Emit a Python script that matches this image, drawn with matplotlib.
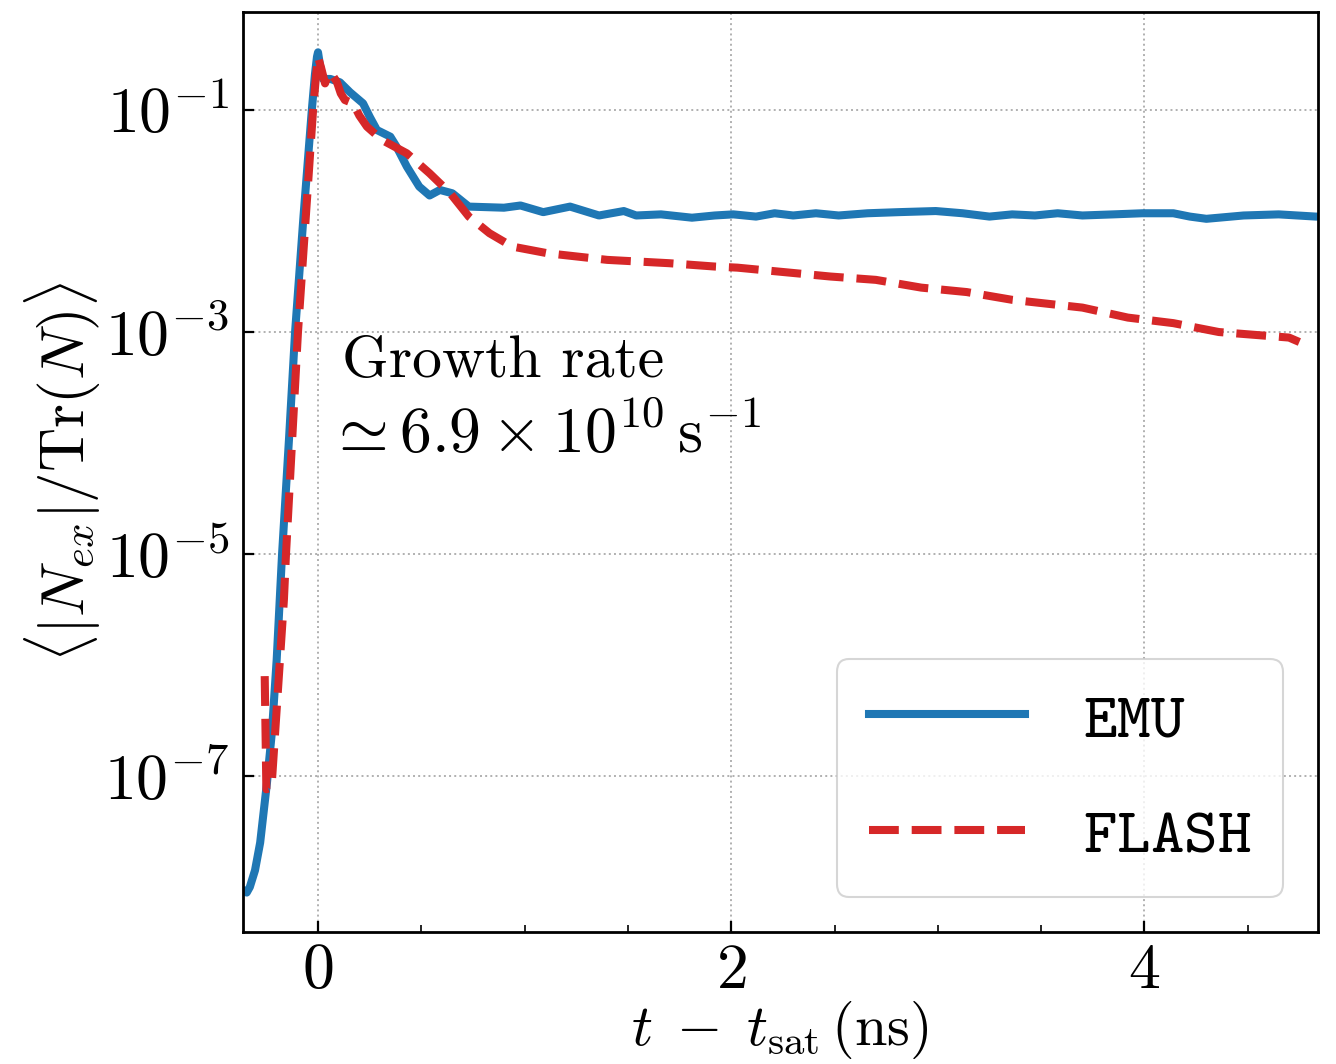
import numpy as np
import matplotlib
matplotlib.use("Agg")
import matplotlib.pyplot as plt
from matplotlib.ticker import FixedLocator, MultipleLocator, FuncFormatter, NullLocator

plt.rcParams['mathtext.fontset'] = 'cm'
plt.rcParams['font.family'] = 'cmr10'
plt.rcParams['axes.unicode_minus'] = False

# EMU curve: time (ns) and log10 of <|N_ex|>/Tr(N)
emu_t = [-0.40, -0.36, -0.345, -0.33, -0.305, -0.28, -0.266, -0.247, -0.223, -0.20,
         -0.174, -0.14, -0.111, -0.07, -0.03, -0.015, -0.005, 0.0, 0.01, 0.024,
         0.06, 0.106, 0.155, 0.218, 0.25, 0.285, 0.35, 0.38, 0.43, 0.49,
         0.54, 0.59, 0.65, 0.73, 0.90, 0.98, 1.09, 1.22, 1.36, 1.48,
         1.54, 1.66, 1.81, 1.92, 2.01, 2.12, 2.21, 2.30, 2.41, 2.52,
         2.66, 2.81, 2.99, 3.12, 3.25, 3.36, 3.47, 3.58, 3.70, 3.85,
         3.99, 4.14, 4.22, 4.30, 4.48, 4.65, 4.83, 4.95]
emu_log = [-8.03, -8.03, -8.05, -8.0, -7.85, -7.6, -7.37, -7.06, -6.6, -5.95,
           -5.0, -3.95, -3.0, -1.95, -1.0, -0.68, -0.52, -0.48, -0.60, -0.72,
           -0.72, -0.75, -0.84, -0.94, -1.06, -1.18, -1.24, -1.33, -1.51, -1.69,
           -1.77, -1.72, -1.75, -1.87, -1.88, -1.86, -1.92, -1.87, -1.95, -1.91,
           -1.95, -1.94, -1.97, -1.95, -1.94, -1.96, -1.93, -1.95, -1.93, -1.95,
           -1.93, -1.92, -1.91, -1.93, -1.96, -1.94, -1.95, -1.93, -1.95, -1.94,
           -1.93, -1.93, -1.96, -1.98, -1.95, -1.94, -1.96, -1.96]

# FLASH curve
flash_t = [-0.258, -0.25, -0.225, -0.165, -0.155, -0.097, -0.024, -0.01, 0.0, 0.015,
           0.034, 0.05, 0.06, 0.075, 0.092, 0.11, 0.13, 0.17, 0.20, 0.237,
           0.31, 0.43, 0.54, 0.64, 0.73, 0.83, 0.94, 1.11, 1.40, 1.70,
           1.92, 2.03, 2.48, 2.70, 2.92, 3.14, 3.36, 3.70, 3.92, 4.14,
           4.36, 4.70, 4.75]
flash_log = [-6.1, -7.12, -7.1, -5.41, -5.0, -3.0, -1.0, -0.7, -0.52, -0.62,
             -0.76, -0.68, -0.66, -0.70, -0.75, -0.85, -0.91, -0.94, -1.05, -1.15,
             -1.27, -1.39, -1.57, -1.75, -1.96, -2.11, -2.23, -2.29, -2.35, -2.38,
             -2.41, -2.42, -2.50, -2.53, -2.60, -2.64, -2.71, -2.78, -2.87, -2.92,
             -3.00, -3.05, -3.09]

fig = plt.figure(figsize=(13.36, 10.64), dpi=100)
ax = fig.add_axes([0.1819, 0.1241, 0.8046, 0.8646])

ax.plot(emu_t, np.power(10.0, emu_log), color='#1f77b4', lw=5.8, label=r'$\mathtt{EMU}$')
ax.plot(flash_t, np.power(10.0, flash_log), color='#d62728', lw=5.8, ls='--',
        label=r'$\mathtt{FLASH}$')

ax.set_yscale('log')
ax.set_xlim(-0.363, 4.84)
ax.set_ylim(10 ** -8.405, 10 ** -0.117)

ax.yaxis.set_major_locator(FixedLocator([1e-7, 1e-5, 1e-3, 1e-1]))
ax.yaxis.set_minor_locator(NullLocator())
ax.yaxis.set_major_formatter(FuncFormatter(lambda v, p: r'$10^{%d}$' % round(np.log10(v))))
ax.xaxis.set_major_locator(MultipleLocator(2))
ax.xaxis.set_minor_locator(MultipleLocator(0.5))
ax.xaxis.set_major_formatter(FuncFormatter(lambda v, p: r'$%d$' % round(v)))

ax.tick_params(which='both', direction='in', labelsize=46)
ax.tick_params(which='major', length=8, width=1.6, pad=10)
ax.tick_params(axis='x', which='major', pad=8)
ax.tick_params(which='minor', length=5, width=1.2)
for s in ax.spines.values():
    s.set_linewidth(2.0)

ax.grid(True, which='major', ls=':', color='#b0b0b0', lw=1.4)

ax.set_xlabel(r'$t \;-\; t_{\mathrm{sat}}\,(\mathrm{ns})$', fontsize=42)
ax.set_ylabel(r'$\langle |N_{ex}|/\mathrm{Tr}(N)\rangle$', fontsize=44)
ax.xaxis.set_label_coords(0.5, -0.073)
ax.yaxis.set_label_coords(-0.13, 0.5)

ax.text(0.092, 0.603, 'Growth rate', transform=ax.transAxes, fontsize=43, family='cmr10')
ax.text(0.078, 0.521, r'$\simeq 6.9 \times 10^{10}\,\mathrm{s}^{-1}$',
        transform=ax.transAxes, fontsize=46)

leg = ax.legend(loc='lower right', fontsize=46, handlelength=2.45, handletextpad=0.9,
                borderaxespad=0.55, labelspacing=0.9, borderpad=0.5, fancybox=True)
leg.get_frame().set_edgecolor('#cccccc')
leg.get_frame().set_linewidth(1.5)

fig.savefig('out.png', dpi=100)
